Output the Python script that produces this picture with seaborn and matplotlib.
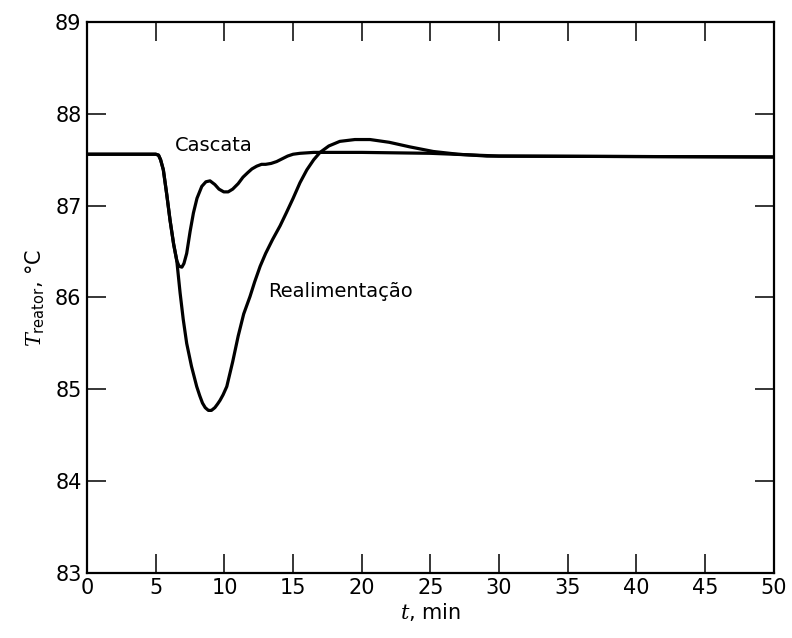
import pandas as pd
import numpy as np
import matplotlib
matplotlib.use("Agg")
import matplotlib.pyplot as plt
import seaborn as sns

sns.set_theme(style="white")
plt.rcParams.update({
    'font.family': ['DejaVu Sans'],
    'mathtext.fontset': 'dejavuserif',
    'axes.linewidth': 1.6,
    'text.color': 'black',
    'axes.labelcolor': 'black',
})

# ---- dados ----
t_cascata = [0, 5.0, 5.2, 5.35, 5.55, 5.8, 6.04, 6.3, 6.53, 6.7, 6.9, 7.05, 7.25, 7.5, 7.74,
             8.0, 8.35, 8.65, 8.95, 9.3, 9.6, 9.95, 10.27, 10.6, 11.0, 11.35, 11.7,
             12.0, 12.35, 12.7, 13.0, 13.4, 13.8, 14.2, 14.6, 15.0, 15.5, 16.5, 20, 25, 30, 50]
T_cascata = [87.56, 87.56, 87.55, 87.50, 87.39, 87.12, 86.84, 86.58, 86.40, 86.34, 86.33, 86.37,
             86.48, 86.72, 86.92, 87.08, 87.21, 87.26, 87.27, 87.23, 87.18, 87.15, 87.15, 87.18,
             87.24, 87.31, 87.36, 87.40, 87.43, 87.45, 87.45, 87.46, 87.48, 87.51, 87.54, 87.56,
             87.57, 87.58, 87.58, 87.57, 87.54, 87.53]

t_realim = [0, 5.0, 5.2, 5.35, 5.55, 5.8, 6.04, 6.3, 6.53, 6.77, 7.0, 7.25, 7.6, 7.98, 8.2,
            8.4, 8.6, 8.83, 9.05, 9.3, 9.5, 9.68, 9.9, 10.17, 10.6, 11.0, 11.4, 11.86, 12.2,
            12.6, 13.0, 13.5, 14.05, 14.5, 15.0, 15.5, 16.0, 16.5, 16.96, 17.6, 18.4, 19.5,
            20.6, 22.0, 23.5, 25.2, 27, 29.1, 50]
T_realim = [87.56, 87.56, 87.55, 87.50, 87.39, 87.12, 86.84, 86.58, 86.40, 86.05, 85.76, 85.50,
            85.25, 85.03, 84.93, 84.85, 84.80, 84.77, 84.77, 84.80, 84.84, 84.88, 84.94, 85.03,
            85.30, 85.58, 85.82, 86.01, 86.17, 86.34, 86.48, 86.63, 86.78, 86.92, 87.08, 87.25,
            87.39, 87.50, 87.58, 87.65, 87.70, 87.72, 87.72, 87.69, 87.64, 87.59, 87.56, 87.54, 87.53]

x_ticks = [0, 5, 10, 15, 20, 25, 30, 35, 40, 45, 50]
y_ticks = [83, 84, 85, 86, 87, 88, 89]

df = pd.concat([
    pd.DataFrame({'t': t_cascata, 'T': T_cascata, 'serie': 'Cascata'}),
    pd.DataFrame({'t': t_realim, 'T': T_realim, 'serie': 'Realimentação'}),
])

fig = plt.figure(figsize=(7.92, 6.38), dpi=100)
ax = fig.add_axes([0.110, 0.102, 0.867, 0.8635])

sns.lineplot(data=df, x='t', y='T', hue='serie', palette=['black', 'black'],
             linewidth=2.3, legend=False, ax=ax, estimator=None, sort=False)
for ln in ax.lines:
    ln.set_solid_joinstyle('round')

ax.set_xlim(0, 50)
ax.set_ylim(83, 89)
ax.set_xticks(x_ticks)
ax.set_yticks(y_ticks)
ax.tick_params(direction='in', length=14, width=1.1, bottom=True, left=True,
               top=True, right=True, labelsize=15, pad=4, colors='black')
for s in ax.spines.values():
    s.set_color('black')

ax.set_xlabel(r'$t$, min', fontsize=15, labelpad=2)
ax.set_ylabel(r'$T_{\mathregular{reator}}$, °C', fontsize=15, labelpad=6)

ax.text(9.2, 87.66, 'Cascata', fontsize=14, ha='center', va='center')
ax.text(13.2, 86.06, 'Realimentação', fontsize=14, ha='left', va='center')

fig.savefig('out.png', dpi=100)
